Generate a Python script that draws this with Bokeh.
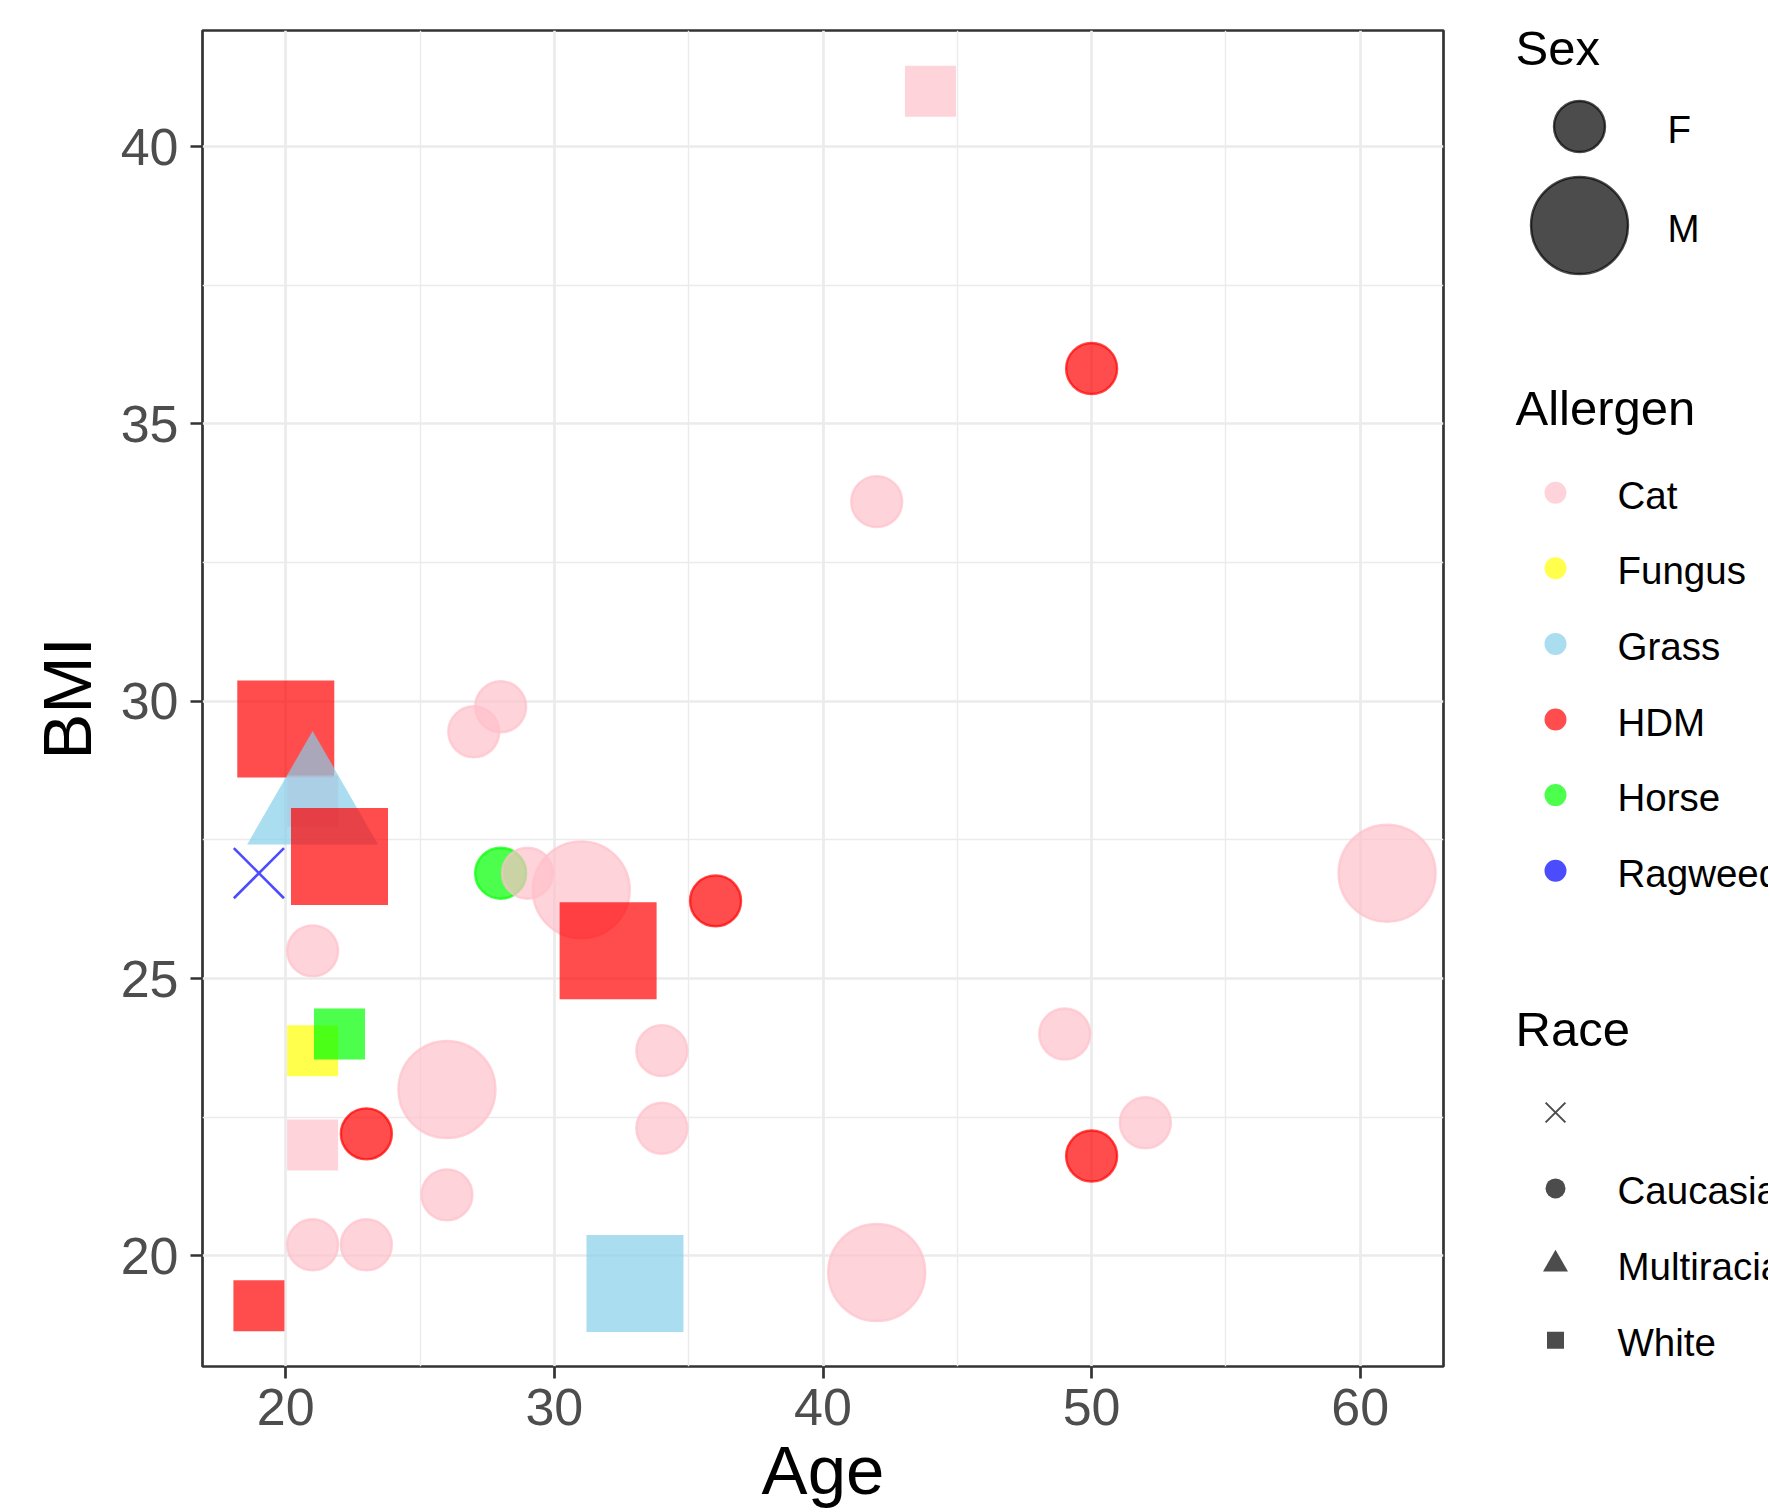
import math
from bokeh.plotting import figure
from bokeh.layouts import row
from bokeh.models import ColumnDataSource, Range1d, FixedTicker
from bokeh.core.properties import value
from bokeh.embed import file_html
from bokeh.resources import INLINE

# ---------------- data ----------------
age = [44, 50, 42, 20, 21, 21, 22, 19, 28, 29, 31, 32, 36, 27, 28, 21, 21, 22,
       26, 34, 34, 21, 23, 26, 21, 23, 19, 33, 42, 49, 52, 50, 61]
bmi = [41.0, 36.0, 33.6, 29.5, 28.2, 28.1, 27.2, 26.9, 26.9, 26.9, 26.6, 25.5,
       26.4, 29.45, 29.9, 25.5, 23.7, 24.0, 23.0, 23.7, 22.3, 22.0, 22.2, 21.1,
       20.2, 20.2, 19.1, 19.5, 19.7, 24.0, 22.4, 21.8, 26.9]
sex = ["F", "F", "F", "M", "F", "M", "M", "F", "F", "F", "M", "M", "F", "F",
       "F", "F", "F", "F", "M", "F", "F", "F", "F", "F", "F", "F", "F", "M",
       "M", "F", "F", "F", "M"]
allergen = ["Cat", "HDM", "Cat", "HDM", "Cat", "Grass", "HDM", "Ragweed",
            "Horse", "Cat", "Cat", "HDM", "HDM", "Cat", "Cat", "Cat", "Fungus",
            "Horse", "Cat", "Cat", "Cat", "Cat", "HDM", "Cat", "Cat", "Cat",
            "HDM", "Grass", "Cat", "Cat", "Cat", "HDM", "Cat"]
race = ["White", "Caucasian", "Caucasian", "White", "White", "Multiracial",
        "White", "", "Caucasian", "Caucasian", "Caucasian", "White",
        "Caucasian", "Caucasian", "Caucasian", "Caucasian", "White", "White",
        "Caucasian", "Caucasian", "Caucasian", "White", "Caucasian",
        "Caucasian", "Caucasian", "Caucasian", "White", "White", "Caucasian",
        "Caucasian", "Caucasian", "Caucasian", "Caucasian"]

sex_levels = ["F", "M"]
allergen_levels = ["Cat", "Fungus", "Grass", "HDM", "Horse", "Ragweed"]
race_levels = ["", "Caucasian", "Multiracial", "White"]

x_ticks = [20, 30, 40, 50, 60]
x_minor = [25, 35, 45, 55]
y_ticks = [20, 25, 30, 35, 40]
y_minor = [22.5, 27.5, 32.5, 37.5]

# ---------------- styles ----------------
FONT = "Liberation Sans"
ALPHA = 0.7
ALLERGEN_COLORS = {"Cat": "#FFC0CB", "Fungus": "#FFFF00", "Grass": "#87CEEB",
                   "HDM": "#FF0000", "Horse": "#00FF00", "Ragweed": "#0000FF"}
RACE_MARKERS = {"": "x", "Caucasian": "circle", "Multiracial": "triangle",
                "White": "square"}
SEX_SIZE = {"F": 51, "M": 97}
MARKER_SCALE = {"x": 1.39, "circle": 1.0, "triangle": 1.35, "square": 1.0}
MARKER_LINE = {"x": (2.6, ALPHA), "circle": (2.4, ALPHA),
               "triangle": (0, 0.0), "square": (0, 0.0)}

markers = [RACE_MARKERS[r] for r in race]
colors = [ALLERGEN_COLORS[a] for a in allergen]
sizes = [SEX_SIZE[s] * MARKER_SCALE[m] for s, m in zip(sex, markers)]
lw = [MARKER_LINE[m][0] for m in markers]
la = [MARKER_LINE[m][1] for m in markers]

src = ColumnDataSource(dict(age=age, bmi=bmi, marker=markers, color=colors,
                            size=sizes, lw=lw, la=la))

# ranges with ggplot-like 5% expansion
def expand(vals, f=0.05):
    lo, hi = min(vals), max(vals)
    d = (hi - lo) * f
    return lo - d, hi + d

x0, x1 = expand(age)
y0, y1 = expand(bmi)

W, H = 1510, 1511
BL, BR, BT, BB = 202, 67, 30, 145

p = figure(width=W, height=H, output_backend="svg", toolbar_location=None,
           x_range=Range1d(x0, x1), y_range=Range1d(y0, y1),
           min_border_left=BL, min_border_right=BR, min_border_top=BT,
           min_border_bottom=BB)
p.background_fill_color = "white"
p.border_fill_color = "white"
p.outline_line_color = "#333333"
p.outline_line_width = 2.7

p.xaxis.ticker = FixedTicker(ticks=x_ticks, minor_ticks=x_minor)
p.yaxis.ticker = FixedTicker(ticks=y_ticks, minor_ticks=y_minor)
for ax in (p.xaxis, p.yaxis):
    ax.axis_line_color = None
    ax.major_tick_line_color = "#333333"
    ax.major_tick_line_width = 2.7
    ax.major_tick_out = 12
    ax.major_tick_in = 0
    ax.minor_tick_line_color = None
    ax.major_label_text_font = FONT
    ax.major_label_text_font_size = "52px"
    ax.major_label_text_color = "#4D4D4D"
    ax.axis_label_text_font = FONT
    ax.axis_label_text_font_size = "69px"
    ax.axis_label_text_font_style = "normal"
    ax.axis_label_text_color = "black"
p.xaxis.axis_label = "Age"
p.yaxis.axis_label = "BMI"
p.xaxis.major_label_standoff = 10
p.xaxis.axis_label_standoff = 4
p.yaxis.major_label_standoff = 12
p.yaxis.axis_label_standoff = 12

for g in (p.xgrid, p.ygrid):
    g.grid_line_color = "#EBEBEB"
    g.grid_line_width = 2.7
    g.minor_grid_line_color = "#EBEBEB"
    g.minor_grid_line_width = 1.4

p.scatter(x="age", y="bmi", source=src, marker="marker", size="size",
          fill_color="color", fill_alpha=ALPHA, line_color="color",
          line_alpha="la", line_width="lw")

# ---------------- legend panel (pixel-like coordinates) ----------------
LW = 1768 - W
FT, FB = BT, H - BB          # frame top / bottom (aligned with main frame)
lg = figure(width=LW, height=H, output_backend="svg", toolbar_location=None,
            x_range=Range1d(0, LW), y_range=Range1d(FB, FT),
            min_border_left=0, min_border_right=0, min_border_top=BT,
            min_border_bottom=BB, outline_line_color=None,
            x_axis_location=None, y_axis_location=None)
lg.grid.visible = False
lg.background_fill_color = "white"
lg.border_fill_color = "white"

TX, KX, LX = 5, 45, 107      # title x, key x, label x
TITLE_SHIFT, LABEL_SHIFT = -19, 2.5


def title(txt, y):
    lg.text(x=[TX], y=[y + TITLE_SHIFT], text=[txt], text_font=value(FONT),
            text_font_size=value("49px"), text_baseline="alphabetic",
            text_align="left", text_color="black")


def labels(xs, ys, txts):
    lg.text(x=xs, y=[y + LABEL_SHIFT for y in ys], text=txts,
            text_font=value(FONT), text_font_size=value("38.5px"),
            text_baseline="alphabetic", text_align="left", text_color="black")


# Sex
title("Sex", 66)
sex_y = [126, 225]
lg.scatter(x=[69, 69], y=sex_y, size=[SEX_SIZE[s] for s in sex_levels],
           marker="circle", fill_color="black", fill_alpha=ALPHA,
           line_color="black", line_alpha=ALPHA, line_width=2.4)
labels([157, 157], sex_y, sex_levels)

# Allergen
title("Allergen", 426.5)
al_y = [492.2 + 75.6 * i for i in range(len(allergen_levels))]
lg.scatter(x=[KX] * len(al_y), y=al_y, size=22, marker="circle",
           fill_color=[ALLERGEN_COLORS[a] for a in allergen_levels],
           fill_alpha=ALPHA, line_color=None)
labels([LX] * len(al_y), al_y, allergen_levels)

# Race
title("Race", 1047.5)
rc_y = [1112 + 75.9 * i for i in range(len(race_levels))]
rm = [RACE_MARKERS[r] for r in race_levels]
rsize = {"x": 28, "circle": 20, "triangle": 25, "square": 17}
lg.scatter(x=[KX] * len(rc_y), y=rc_y, marker=rm, size=[rsize[m] for m in rm],
           fill_color="black", fill_alpha=ALPHA, line_color="black",
           line_alpha=[ALPHA if m == "x" else 0 for m in rm], line_width=2)
labels([LX] * len(rc_y), rc_y, race_levels)

layout = row(p, lg)
open("out.html", "w").write(file_html(layout, INLINE))
